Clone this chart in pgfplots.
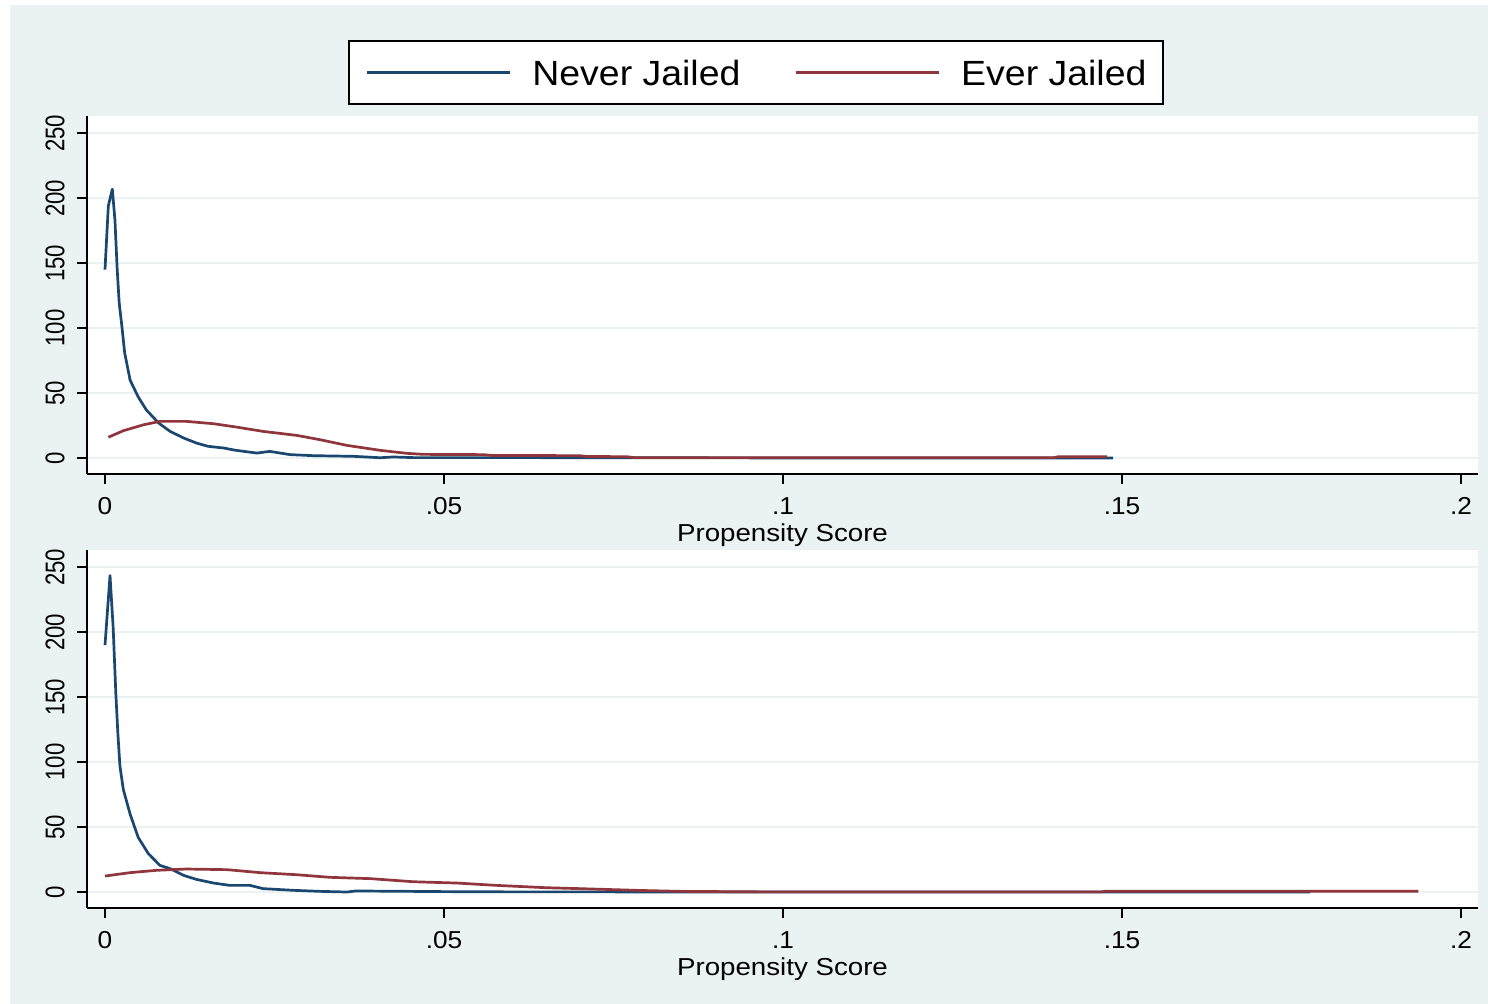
\documentclass[border=0pt]{standalone}
\usepackage{pgfplots}
\pgfplotsset{compat=1.18}
\usepackage{fontspec}
\setmainfont{Liberation Sans}[FakeStretch=1.07]
\newfontfamily\yfont{Liberation Sans}[FakeStretch=0.82]
\newfontfamily\labfont{Liberation Sans}[FakeStretch=1.13]
\definecolor{bgc}{HTML}{EAF2F3}
\definecolor{nav}{HTML}{1A476F}
\definecolor{mar}{HTML}{90353B}
\newcommand{\ry}[1]{\rotatebox{90}{#1}}
\pgfplotsset{
 panel/.style={
  scale only axis, width=695.5pt, height=179pt,
  xmin=-0.002655, xmax=0.20251, ymin=-12.3, ymax=263.3,
  axis x line*=bottom, axis y line*=left,
  axis line style={black, line width=1pt},
  axis background/.style={fill=white},
  xtick={0,0.05,0.1,0.15,0.2}, xticklabels={0,.05,.1,.15,.2},
  ytick={0,50,100,150,200,250}, yticklabels={\ry{0},\ry{50},\ry{100},\ry{150},\ry{200},\ry{250}},
  tick align=outside, major tick length=5pt,
  tick style={black, line width=1pt},
  ymajorgrids, major grid style={bgc, line width=0.9pt},
  xticklabel style={font=\fontsize{12.25}{12.25}\selectfont, inner sep=0pt, anchor=north, yshift=-6.5pt},
  yticklabel style={font=\yfont\fontsize{13.5}{13.5}\selectfont, anchor=east, inner sep=0pt, xshift=-6pt},
  xlabel={Propensity Score},
  xlabel style={font=\labfont\fontsize{12.25}{12.25}\selectfont, at={(axis description cs:0.5,0)}, anchor=north, inner sep=0pt, yshift=-24.5pt},
  every axis plot/.append style={line width=1.35pt, line join=round},
 }
}
\begin{document}
\begin{tikzpicture}
\fill[white] (0,0) rectangle (744pt,502pt);
\fill[bgc] (5pt,0) rectangle (744pt,499.5pt);
\useasboundingbox (0,0) rectangle (744pt,502pt);
\begin{axis}[panel, at={(43.5pt,265pt)}, anchor=south west,
  legend style={at={(0.481,1.1215)}, anchor=center, draw=black, line width=1pt, fill=white,
    font=\fontsize{17.5}{17.5}\selectfont, legend columns=2, inner xsep=8.5pt, inner ysep=9.5pt,
    nodes={inner sep=0pt, text height=12.8pt, text depth=0pt},
    /tikz/every odd column/.append style={column sep=10.5pt},
    /tikz/every even column/.append style={column sep=27pt}},
  legend image code/.code={\draw[#1, line width=1.35pt] (0pt,0pt) -- (71.5pt,0pt);}]
\addplot[nav] coordinates {
(0.0000,145) (0.00049,194) (0.00108,207) (0.00147,183) (0.0018,145) (0.0021,119)
(0.0025,101) (0.0029,81) (0.0037,60) (0.0049,47) (0.0061,37) (0.0079,27)
(0.0096,20.5) (0.0116,15.4) (0.0135,11.5) (0.0152,9) (0.0175,7.7) (0.0192,6)
(0.0224,3.8) (0.0243,5.1) (0.0273,2.6) (0.0307,1.8) (0.0366,1.3) (0.0406,0.2)
(0.0425,0.8) (0.0455,0.3) (0.06,0.3) (0.077,0.2) (0.1,0.05) (0.1487,0)};
\addlegendentry{Never Jailed}
\addplot[mar] coordinates {
(0.0005,16) (0.0027,21) (0.0057,25.6) (0.0081,28.2) (0.012,28.2) (0.016,26.4)
(0.0194,23.8) (0.0233,20.5) (0.0283,17.4) (0.0317,14.1) (0.0357,9.7) (0.0406,5.9)
(0.0445,3.6) (0.047,2.8) (0.0558,2.6) (0.057,2) (0.07,1.8) (0.071,1.2) (0.077,1.0)
(0.078,0.3) (0.14,0.3) (0.1405,0.9) (0.1478,0.9)};
\addlegendentry{Ever Jailed}
\end{axis}
\begin{axis}[panel, at={(43.5pt,48pt)}, anchor=south west]
\addplot[nav] coordinates {
(0,190) (0.00074,243.6) (0.0012,204) (0.0016,152.6) (0.0019,122) (0.0022,97)
(0.0027,79) (0.0037,60) (0.0049,42) (0.0064,29.5) (0.0081,20.5) (0.0096,18)
(0.0116,12.8) (0.0135,9.7) (0.016,6.9) (0.0184,5.1) (0.0214,5.1) (0.0233,2.6)
(0.0278,1.3) (0.0317,0.5) (0.0357,0) (0.037,0.8) (0.05,0.3) (0.06,0.1) (0.1777,0)};
\addplot[mar] coordinates {
(0,12.3) (0.0037,14.9) (0.0076,16.7) (0.012,17.7) (0.018,17.2) (0.0229,14.9)
(0.0283,13.3) (0.0332,11.3) (0.0391,10.3) (0.0455,7.9) (0.0519,6.9) (0.0578,5.1)
(0.0651,3.3) (0.070,2.6) (0.079,1.2) (0.085,0.5) (0.097,0.1) (0.147,0.1)
(0.1475,0.6) (0.1937,0.6)};
\end{axis}
\end{tikzpicture}
\end{document}
